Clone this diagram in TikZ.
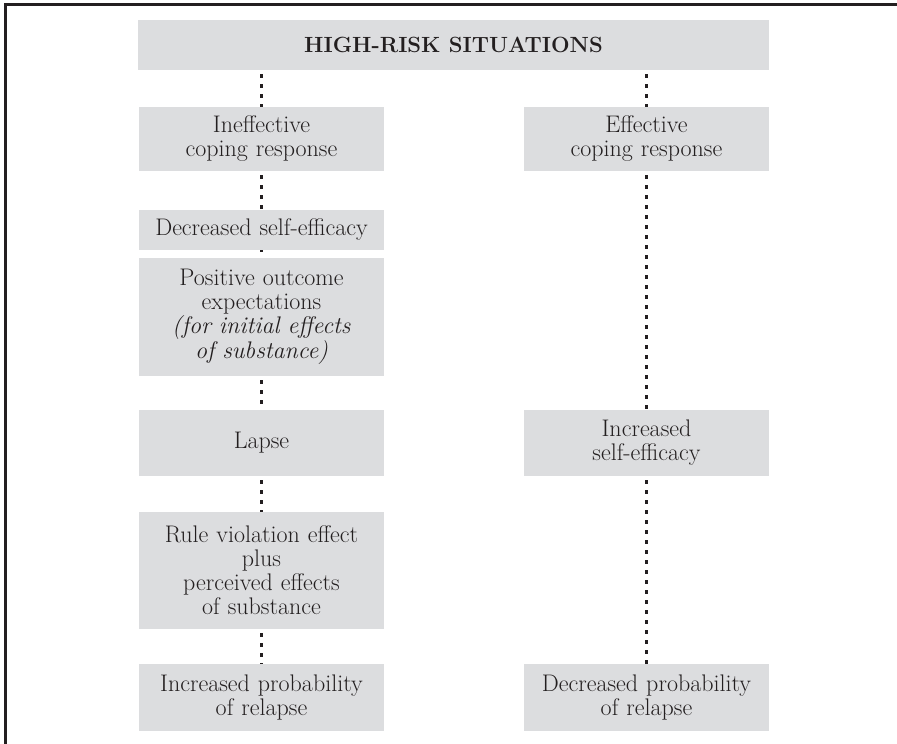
\documentclass[tikz,border=0pt]{standalone}
\usepackage{fontspec}
\begin{document}
\begin{tikzpicture}[x=1pt,y=-1pt,
  every node/.style={text=ink},
  box/.style={rectangle, fill=boxgray, inner sep=0pt, align=center,
    font=\fontsize{24}{24}\selectfont},
  colbox/.style={box, minimum width=245pt, text width=243pt},
  link/.style={draw=ink, line width=2.4pt, dash pattern=on 4pt off 6pt, dash phase=6pt}]
  \definecolor{boxgray}{RGB}{220,221,223}
  \definecolor{ink}{RGB}{35,31,32}
  \useasboundingbox (0,0) rectangle (897,744);
  % frame edges
  \draw[line width=3pt, ink] (5.5,744) -- (5.5,4.3) -- (897,4.3);

  % heading
  \node[box, minimum width=631pt, minimum height=50pt, font=\fontsize{22}{24}\selectfont\bfseries]
    (hrs) at (453.5,45) {HIGH-RISK SITUATIONS};

  % left column
  \node[colbox, minimum height=64pt] (ineff) at (261.5,139) {Ineffective\\coping response};
  \node[colbox, minimum height=40pt] (decse) at (261.5,230) {Decreased self-efficacy};
  \node[colbox, minimum height=118pt] (posout) at (261.5,317)
    {Positive outcome\\expectations\\\textit{(for initial effects}\\\textit{of substance)}};
  \node[colbox, minimum height=66pt] (lapse) at (261.5,443) {Lapse};
  \node[colbox, minimum height=117pt] (rule) at (261.5,570.5)
    {Rule violation effect\\plus\\perceived effects\\of substance};
  \node[colbox, minimum height=67pt] (incprob) at (261.5,697.5) {Increased probability\\of relapse};

  % right column
  \node[colbox, minimum height=64pt] (eff) at (646.5,139) {Effective\\coping response};
  \node[colbox, minimum height=66pt] (incse) at (646.5,443) {Increased\\self-efficacy};
  \node[colbox, minimum height=67pt] (decprob) at (646.5,697.5) {Decreased probability\\of relapse};

  % dotted connectors
  \draw[link] (hrs.south -| ineff.north) -- (ineff.north);
  \draw[link] (ineff) -- (decse);
  \draw[link, dash phase=2pt] (decse) -- (posout);
  \draw[link] (posout) -- (lapse);
  \draw[link] (lapse) -- (rule);
  \draw[link] (rule) -- (incprob);
  \draw[link] (hrs.south -| eff.north) -- (eff.north);
  \draw[link] (eff) -- (incse);
  \draw[link] (incse) -- (decprob);
\end{tikzpicture}
\end{document}
